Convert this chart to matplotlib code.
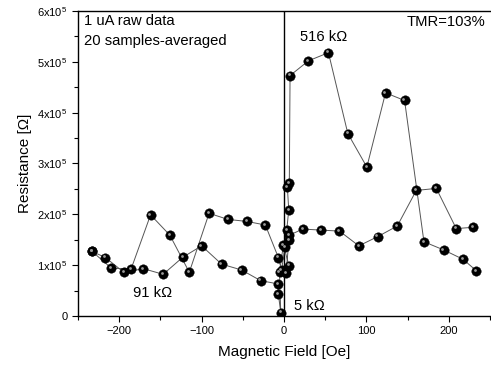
import numpy as np
import matplotlib
matplotlib.use('Agg')
import matplotlib.pyplot as plt
from matplotlib.ticker import FuncFormatter, MultipleLocator
from matplotlib.transforms import ScaledTranslation

plt.rcParams['font.family'] = ['Liberation Sans', 'DejaVu Sans']
plt.rcParams['mathtext.fontset'] = 'custom'
plt.rcParams['mathtext.rm'] = 'Liberation Sans'

# sweep up (-H -> +H), field in Oe, resistance in units of 1e5 Ohm
field_up = [-233, -209.5, -185.6, -162, -138.6, -115, -91, -68, -45, -22.7,
            -6.9, -3, 1, 3.3, 5.7, 4, 6.4, 7.3, 29.6, 53.9, 77.4, 100.5,
            123.2, 146.3, 169.8, 193.7, 217.3, 233.4]
res_up = [1.27, 0.94, 0.925, 1.99, 1.59, 0.86, 2.02, 1.90, 1.86, 1.79,
          1.15, 0.90, 1.36, 1.69, 2.09, 2.54, 2.62, 4.73, 5.02, 5.18, 3.59, 2.93,
          4.39, 4.24, 1.46, 1.30, 1.115, 0.89]

# sweep down (+H -> -H)
field_down = [229.8, 209, 184.8, 160.5, 137.4, 113.5, 90.8, 67.3, 44.6, 22.7,
              6.4, 6, 2.4, 6, -0.8, -5.5, -4, -6.9, -6.9, -28.4, -51.5, -75.8,
              -100, -123, -146.7, -170.6, -194.5, -216.8, -233]
res_down = [1.745, 1.72, 2.51, 2.47, 1.77, 1.56, 1.38, 1.67, 1.69, 1.71,
            1.59, 1.50, 0.85, 0.99, 1.40, 0.86, 0.065, 0.43, 0.63, 0.695, 0.905, 1.02,
            1.38, 1.155, 0.82, 0.93, 0.86, 1.15, 1.27]

fig = plt.figure(figsize=(4.91, 3.67), dpi=100)
ax = fig.add_axes([0.159, 0.139, 0.839, 0.831])

hl = ax.transData + ScaledTranslation(-0.012, 0.012, fig.dpi_scale_trans)
for fx, ry in [(field_up, res_up), (field_down, res_down)]:
    fx = np.array(fx)
    ry = np.array(ry) * 1e5
    ax.plot(fx, ry, '-', color='#555555', lw=0.7, zorder=2)
    ax.plot(fx, ry, 'o', ms=6.8, mfc='black', mec='black', mew=0.3, zorder=3)
    ax.plot(fx, ry, 'o', ms=2.0, mfc='#9a9a9a', mec='none', zorder=4, transform=hl)

ax.axvline(0, color='black', lw=1.0, zorder=1)

ax.set_xlim(-250, 250)
ax.set_ylim(0, 6e5)
ax.xaxis.set_major_locator(MultipleLocator(100))
ax.xaxis.set_minor_locator(MultipleLocator(50))
ax.yaxis.set_major_locator(MultipleLocator(1e5))
ax.yaxis.set_minor_locator(MultipleLocator(0.5e5))


def yfmt(v, pos):
    n = int(round(v / 1e5))
    if n == 0:
        return '0'
    return r'$\mathregular{%dx10^5}$' % n


ax.yaxis.set_major_formatter(FuncFormatter(yfmt))
ax.tick_params(which='both', direction='out', labelsize=8, width=0.8)
ax.tick_params(which='major', length=4)
ax.tick_params(which='minor', length=3)
for s in ax.spines.values():
    s.set_linewidth(1.0)
ax.spines['right'].set_visible(False)

ax.set_xlabel('Magnetic Field [Oe]', fontsize=11, labelpad=6)
ax.set_ylabel('Resistance [Ω]', fontsize=11, labelpad=4)

ax.text(-243, 5.80e5, '1 uA raw data', fontsize=10.6, va='center')
ax.text(-243, 5.41e5, '20 samples-averaged', fontsize=10.6, va='center')
ax.text(244, 5.78e5, 'TMR=103%', fontsize=10.6, va='center', ha='right')
ax.text(19.5, 5.49e5, '516 kΩ', fontsize=10.6, va='center')
ax.text(-183.6, 0.45e5, '91 kΩ', fontsize=10.6, va='center')
ax.text(12, 0.2e5, '5 kΩ', fontsize=10.6, va='center')

fig.savefig('out.png', dpi=100)
